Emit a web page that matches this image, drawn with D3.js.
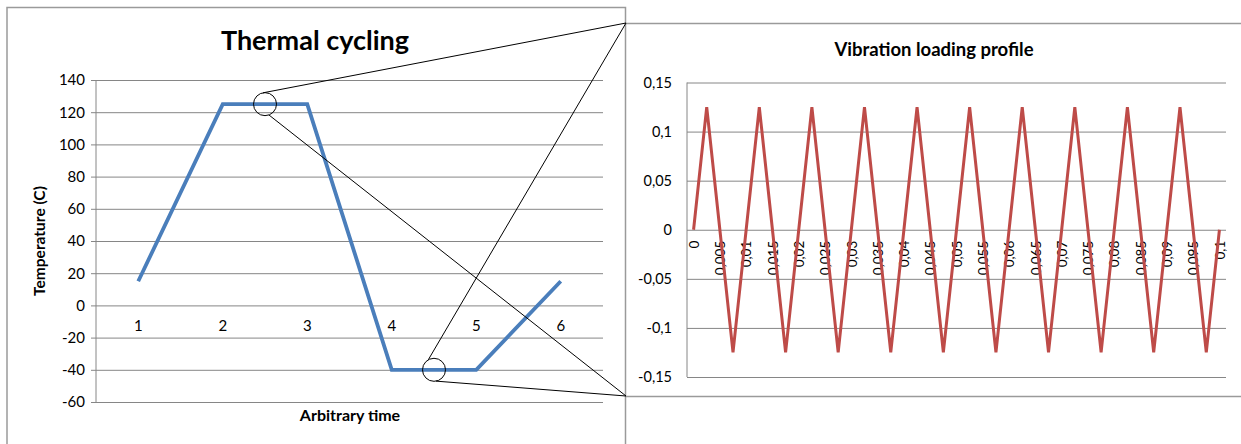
<!DOCTYPE html>
<html>
<head>
<meta charset="utf-8">
<script src="https://cdn.jsdelivr.net/npm/d3@7/dist/d3.min.js"></script>
<style>
  html, body { margin: 0; padding: 0; background: #fff; }
  svg { display: block; }
  text { font-family: Lato, "Open Sans", "Liberation Sans", sans-serif; fill: #000; }
</style>
</head>
<body>
<svg id="chart" width="1241" height="444"></svg>
<script>
// ---------- Data: Thermal cycling ----------
const thermCats = ["1", "2", "3", "4", "5", "6"];
const thermTemp = [15, 125, 125, -40, -40, 15];
const thermYTicks = [-60, -40, -20, 0, 20, 40, 60, 80, 100, 120, 140];

// ---------- Data: Vibration loading profile ----------
const vibTimes = [0, 0.0025, 0.005, 0.0075, 0.01, 0.0125, 0.015, 0.0175, 0.02, 0.0225,
  0.025, 0.0275, 0.03, 0.0325, 0.035, 0.0375, 0.04, 0.0425, 0.045, 0.0475,
  0.05, 0.0525, 0.055, 0.0575, 0.06, 0.0625, 0.065, 0.0675, 0.07, 0.0725,
  0.075, 0.0775, 0.08, 0.0825, 0.085, 0.0875, 0.09, 0.0925, 0.095, 0.0975, 0.1];
const vibLoad = [0, 0.125, 0, -0.125, 0, 0.125, 0, -0.125, 0, 0.125,
  0, -0.125, 0, 0.125, 0, -0.125, 0, 0.125, 0, -0.125,
  0, 0.125, 0, -0.125, 0, 0.125, 0, -0.125, 0, 0.125,
  0, -0.125, 0, 0.125, 0, -0.125, 0, 0.125, 0, -0.125, 0];
const vibXLabels = [0, 0.005, 0.01, 0.015, 0.02, 0.025, 0.03, 0.035, 0.04, 0.045,
  0.05, 0.055, 0.06, 0.065, 0.07, 0.075, 0.08, 0.085, 0.09, 0.095, 0.1];
const vibYTicks = [-0.15, -0.1, -0.05, 0, 0.05, 0.1, 0.15];

const svg = d3.select("#chart");
const gridColor = "#868686";
const frameColor = "#9a9a9a";
const loc = d3.formatLocale({decimal: ",", thousands: ".", grouping: [3], currency: ["", ""], minus: "-"});
const comma = loc.format("~g");
const intFmt = loc.format("d");

// ---------- Frames ----------
svg.append("path")
  .attr("d", "M7,444 L7,7.5 L625.5,7.5 L625.5,444")
  .attr("fill", "none").attr("stroke", frameColor).attr("stroke-width", 1.5);
svg.append("path")
  .attr("d", "M625.5,23.5 L1241,23.5 M625.5,396.5 L1241,396.5")
  .attr("fill", "none").attr("stroke", frameColor).attr("stroke-width", 1.5);

// ---------- Left chart ----------
const L = {left: 96, right: 603, top: 80, bottom: 402};
const xL = d3.scaleBand().domain(thermCats).range([L.left, L.right]);
const yL = d3.scaleLinear().domain([-60, 140]).range([L.bottom, L.top]);
const gL = svg.append("g");

const yAxisL = d3.axisLeft(yL).tickValues(thermYTicks).tickSize(-(L.right - L.left)).tickSizeOuter(0).tickPadding(11).tickFormat(intFmt);
const yAxL = gL.append("g").attr("transform", `translate(${L.left},0)`).call(yAxisL);
yAxL.select(".domain").remove();
yAxL.selectAll(".tick line").attr("stroke", gridColor).attr("stroke-width", 1).attr("x1", -5);
yAxL.selectAll(".tick text").attr("font-size", 15).attr("fill", "#000").style("font-family", "Lato, sans-serif");
gL.append("line").attr("x1", L.left).attr("x2", L.left).attr("y1", L.top).attr("y2", L.bottom)
  .attr("stroke", gridColor).attr("stroke-width", 1);

const xAxisL = d3.axisBottom(xL).tickSize(0).tickPadding(15);
const xAxL = gL.append("g").attr("transform", `translate(0,${yL(0)})`).call(xAxisL);
xAxL.select(".domain").remove();
xAxL.selectAll(".tick text").attr("font-size", 15).attr("fill", "#000").style("font-family", "Lato, sans-serif");

const lineL = d3.line().x((d, i) => xL(thermCats[i]) + xL.bandwidth() / 2).y(d => yL(d));
gL.append("path").datum(thermTemp).attr("d", lineL)
  .attr("fill", "none").attr("stroke", "#4A7EBB").attr("stroke-width", 3.8)
  .attr("stroke-linejoin", "miter").attr("stroke-linecap", "butt");

gL.append("text").attr("x", 315).attr("y", 50).attr("text-anchor", "middle")
  .attr("font-size", 27).attr("font-weight", "bold").text("Thermal cycling");
gL.append("text").attr("transform", `translate(45,${(L.top + L.bottom) / 2}) rotate(-90)`)
  .attr("text-anchor", "middle").attr("font-size", 15.5).attr("font-weight", "bold").text("Temperature (C)");
gL.append("text").attr("x", 350).attr("y", 421).attr("text-anchor", "middle")
  .attr("font-size", 16).attr("font-weight", "bold").text("Arbitrary time");

// ---------- Right chart ----------
const R = {left: 687, right: 1226, top: 82.5, bottom: 377};
const xR = d3.scalePoint().domain(vibTimes).range([R.left, R.right]).padding(0.5);
const yR = d3.scaleLinear().domain([-0.15, 0.15]).range([R.bottom, R.top]);
const gR = svg.append("g");

const yAxisR = d3.axisLeft(yR).tickValues(vibYTicks).tickSize(-(R.right - R.left)).tickSizeOuter(0).tickPadding(15).tickFormat(comma);
const yAxR = gR.append("g").attr("transform", `translate(${R.left},0)`).call(yAxisR);
yAxR.select(".domain").remove();
yAxR.selectAll(".tick line").attr("stroke", gridColor).attr("stroke-width", 1);
yAxR.selectAll(".tick text").attr("font-size", 14.5).attr("fill", "#000").style("font-family", "Lato, sans-serif");
gR.append("line").attr("x1", R.left).attr("x2", R.left).attr("y1", R.top).attr("y2", R.bottom)
  .attr("stroke", gridColor).attr("stroke-width", 1);

const xAxisR = d3.axisBottom(xR).tickValues(vibXLabels).tickSize(0).tickPadding(0).tickFormat(comma);
const xAxR = gR.append("g").attr("transform", `translate(0,${yR(0)})`).call(xAxisR);
xAxR.select(".domain").remove();
xAxR.selectAll(".tick text")
  .attr("font-size", 13.5).attr("fill", "#000").style("font-family", "Lato, sans-serif")
  .attr("transform", "rotate(-90)")
  .attr("text-anchor", "end")
  .attr("x", -11).attr("y", 0).attr("dy", "0.35em");

const lineR = d3.line().x((d, i) => xR(vibTimes[i])).y(d => yR(d));
gR.append("path").datum(vibLoad).attr("d", lineR)
  .attr("fill", "none").attr("stroke", "#BE4B48").attr("stroke-width", 3)
  .attr("stroke-linejoin", "miter").attr("stroke-linecap", "butt");

gR.append("text").attr("x", 934).attr("y", 56).attr("text-anchor", "middle")
  .attr("font-size", 18.5).attr("font-weight", "bold").text("Vibration loading profile");

// ---------- Zoom annotations ----------
const cA = {x: (xL("2") + xL("3")) / 2 + xL.bandwidth() / 2, y: yL(125), r: 11.5};
const cB = {x: (xL("4") + xL("5")) / 2 + xL.bandwidth() / 2, y: yL(-40), r: 11.5};
const corners = {top: [626, 23], bottom: [626, 396]};
const gZ = svg.append("g");
[cA, cB].forEach(c => {
  gZ.append("circle").attr("cx", c.x).attr("cy", c.y).attr("r", c.r)
    .attr("fill", "none").attr("stroke", "#000").attr("stroke-width", 1);
});
const pt = (c, deg) => [c.x + c.r * Math.cos(deg * Math.PI / 180), c.y + c.r * Math.sin(deg * Math.PI / 180)];
const links = [
  [pt(cA, -100), corners.top],
  [pt(cA, 70), corners.bottom],
  [pt(cB, -120), corners.top],
  [pt(cB, 80), corners.bottom]
];
links.forEach(([a, b]) => {
  gZ.append("line").attr("x1", a[0]).attr("y1", a[1]).attr("x2", b[0]).attr("y2", b[1])
    .attr("stroke", "#000").attr("stroke-width", 1);
});
</script>
</body>
</html>
